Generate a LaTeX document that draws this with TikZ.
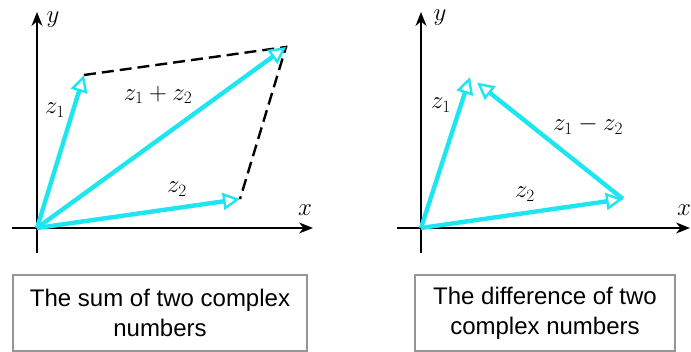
\documentclass[tikz,border=0pt]{standalone}
\usepackage{fontspec}
\setsansfont{Liberation Sans}
\usetikzlibrary{arrows.meta}

\definecolor{vec}{RGB}{30,230,240}
\definecolor{boxgray}{RGB}{150,150,150}

\tikzset{
  axis/.style={line width=1.6pt, -{Stealth[length=14pt,width=11pt]}},
  vector/.style={vec, line width=4.4pt,
    -{Triangle[open,length=17pt,width=17pt,line width=2.4pt]}},
  side/.style={line width=2.4pt, dash pattern=on 12pt off 6pt},
  lbl/.style={font=\fontsize{23}{27}\selectfont},
  capbox/.style={draw=boxgray, line width=1.4pt, align=center,
    minimum height=76pt, inner sep=0pt,
    font=\sffamily\fontsize{24}{30}\selectfont}
}

\begin{document}
\begin{tikzpicture} [x=1pt,y=1pt]

\useasboundingbox (0,0) rectangle (691,352);

% sum
\coordinate (O1) at (37,124);
\coordinate (A1) at (84,277);
\coordinate (B1) at (240,153);
\coordinate (S1) at (286,305);
\draw [axis] (37,99) -- (37,340);
\draw [axis] (12,124) -- (313,124);
\node [lbl] (y1) at (53,332) {$y$};
\node [lbl] (x1) at (305,142) {$x$};
\draw [side] (A1) -- (S1) -- (B1);
\draw [vector] (O1) -- (A1);
\draw [vector] (O1) -- (B1);
\draw [vector] (O1) -- (S1);
\node [lbl] (z1a) at (55,242) {$z_1$};
\node [lbl] (z2a) at (177,163) {$z_2$};
\node [lbl] (suma) at (158,257) {$z_1 + z_2$};
\node [capbox, minimum width=294pt] (sumbox) at (160,39)
  {The sum of two complex\\numbers};

% difference
\coordinate (O2) at (421,124);
\coordinate (A2) at (470,275);
\coordinate (B2) at (623,153);
\draw [axis] (421,99) -- (421,340);
\draw [axis] (397,124) -- (690,124);
\node [lbl] (y2) at (440,334) {$y$};
\node [lbl] (x2) at (684,142) {$x$};
\draw [vector] (O2) -- (A2);
\draw [vector] (O2) -- (B2);
\draw [vector, shorten >=9pt] (B2) -- (A2);
\node [lbl] (z1b) at (441,247) {$z_1$};
\node [lbl] (z2b) at (525,158) {$z_2$};
\node [lbl] (diffb) at (588,227) {$z_1 - z_2$};
\node [capbox, minimum width=260pt] (diffbox) at (545,39)
  {The difference of two\\complex numbers};

\end{tikzpicture}
\end{document}
